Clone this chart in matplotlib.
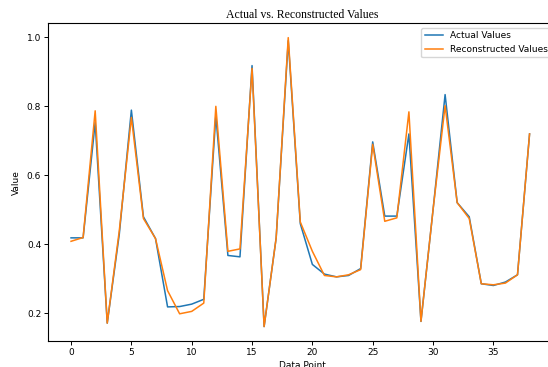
import matplotlib
matplotlib.use("Agg")
import matplotlib.pyplot as plt

# values
actual = [0.419, 0.419, 0.753, 0.172, 0.43, 0.789, 0.48, 0.417, 0.219, 0.22,
          0.227, 0.241, 0.773, 0.368, 0.364, 0.918, 0.162, 0.419, 0.99, 0.46,
          0.342, 0.314, 0.306, 0.31, 0.33, 0.697, 0.482, 0.482, 0.72, 0.177,
          0.5, 0.834, 0.521, 0.48, 0.286, 0.281, 0.291, 0.312, 0.72]
reconstructed = [0.409, 0.42, 0.787, 0.172, 0.44, 0.768, 0.475, 0.417, 0.266, 0.199,
                 0.206, 0.23, 0.80, 0.38, 0.387, 0.91, 0.162, 0.419, 0.999, 0.465,
                 0.38, 0.31, 0.306, 0.312, 0.327, 0.69, 0.467, 0.477, 0.784, 0.177,
                 0.5, 0.802, 0.521, 0.475, 0.286, 0.283, 0.288, 0.312, 0.72]
points = list(range(len(actual)))
xticks = [0, 5, 10, 15, 20, 25, 30, 35]

fig = plt.figure(figsize=(5.48, 3.67), dpi=100)
# the reference is a cropped screenshot: the right edge of the axes is cut off
ax = fig.add_axes([0.0878, 0.0708, 0.927, 0.866])

ax.plot(points, actual, label='Actual Values', color='#1f77b4', lw=1.1)
ax.plot(points, reconstructed, label='Reconstructed Values', color='#ff7f0e', lw=1.1)
ax.set_xlim(-1.9, 40.2)
ax.set_xticks(xticks)

ax.set_title('Actual vs. Reconstructed Values', family='Liberation Serif', fontsize=8.5, pad=4)
ax.set_xlabel('Data Point', fontsize=6.5, labelpad=3)
ax.set_ylabel('Value', fontsize=6.5, labelpad=4)
ax.tick_params(labelsize=6.5, length=3, width=0.7, pad=2)
for s in ax.spines.values():
    s.set_linewidth(0.8)
ax.legend(fontsize=6.5, loc='upper right', handlelength=2, borderpad=0.4)

fig.savefig('out.png', dpi=100)
